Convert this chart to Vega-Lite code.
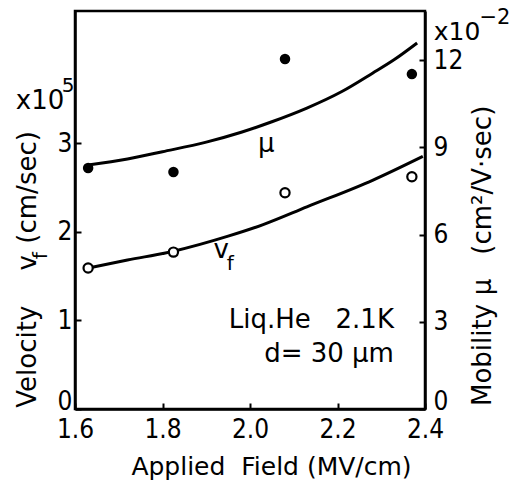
{
  "$schema": "https://vega.github.io/schema/vega-lite/v6.json",
  "width": 350,
  "height": 398,
  "autosize": {"type": "none"},
  "padding": {"left": 75, "top": 11, "right": 88, "bottom": 79},
  "background": "white",
  "config": {
    "view": {"stroke": "black", "strokeWidth": 2.5},
    "axis": {
      "grid": false,
      "domainColor": "black",
      "domainWidth": 2.5,
      "tickColor": "black",
      "tickWidth": 2,
      "tickSize": -6,
      "labelColor": "black",
      "labelFont": "Liberation Sans Narrow, DejaVu Sans Condensed, Liberation Sans",
      "labelFontSize": 26,
      "labelFlush": false,
      "labelOverlap": false,
      "titleColor": "black",
      "titleFont": "DejaVu Sans",
      "titleFontWeight": "normal"
    },
    "text": {"font": "DejaVu Sans", "color": "black"}
  },
  "encoding": {
    "x": {
      "field": "field",
      "type": "quantitative",
      "scale": {"domain": [1.6, 2.4], "nice": false, "zero": false},
      "axis": {
        "values": [1.6, 1.8, 2.0, 2.2, 2.4],
        "format": ".1f",
        "labelPadding": 13,
        "title": "Applied\u00a0\u00a0Field (MV/cm)",
        "titleFontSize": 25,
        "titleX": 196,
        "titleY": 65,
        "titleAlign": "center",
        "titleBaseline": "alphabetic"
      }
    }
  },
  "layer": [
    {
      "encoding": {
        "y": {
          "field": "v",
          "type": "quantitative",
          "scale": {"domain": [0, 4.49], "nice": false},
          "axis": {
            "orient": "left",
            "values": [0, 1, 2, 3],
            "labelPadding": 9,
            "labelBaseline": {"condition": {"test": "datum.value === 0", "value": "alphabetic"}, "value": "middle"},
            "title": null
          }
        }
      },
      "layer": [
        {
          "data": {"values": [
            {"field": 1.63, "v": 1.59},
            {"field": 1.72, "v": 1.68},
            {"field": 1.825, "v": 1.78},
            {"field": 1.95, "v": 1.95},
            {"field": 2.03, "v": 2.08},
            {"field": 2.13, "v": 2.28},
            {"field": 2.28, "v": 2.58},
            {"field": 2.395, "v": 2.85}
          ]},
          "mark": {"type": "line", "color": "black", "strokeWidth": 3, "interpolate": "monotone"}
        },
        {
          "data": {"values": [
            {"field": 1.63, "v": 1.59},
            {"field": 1.825, "v": 1.77},
            {"field": 2.08, "v": 2.44},
            {"field": 2.37, "v": 2.62}
          ]},
          "mark": {"type": "point", "shape": "circle", "filled": false, "fill": "white", "stroke": "black", "strokeWidth": 2.2, "size": 85, "opacity": 1, "fillOpacity": 1}
        },
        {
          "data": {"values": [{"field": 1.934, "v": 1.79, "label": "v"}]},
          "mark": {"type": "text", "fontSize": 26, "align": "center", "baseline": "middle"},
          "encoding": {"text": {"field": "label"}}
        },
        {
          "data": {"values": [{"field": 1.955, "v": 1.64, "label": "f"}]},
          "mark": {"type": "text", "fontSize": 20, "align": "center", "baseline": "middle"},
          "encoding": {"text": {"field": "label"}}
        },
        {
          "data": {"values": [
            {"field": 2.329, "v": 0.91, "label": "Liq.He\u00a0\u00a0\u00a02.1K"},
            {"field": 2.329, "v": 0.53, "label": "d=\u00a030\u00a0μm"}
          ]},
          "mark": {"type": "text", "fontSize": 26, "align": "right", "baseline": "alphabetic"},
          "encoding": {"text": {"field": "label"}}
        },
        {
          "data": {"values": [
            {"field": 1.6, "v": 0.59, "label": "Velocity"},
            {"field": 1.6, "v": 1.65, "label": "v"},
            {"field": 1.6, "v": 2.5, "label": "(cm/sec)"}
          ]},
          "mark": {"type": "text", "fontSize": 26, "angle": 270, "align": "center", "baseline": "middle", "dy": -47},
          "encoding": {"text": {"field": "label"}}
        },
        {
          "data": {"values": [{"field": 1.6, "v": 1.73, "label": "f"}]},
          "mark": {"type": "text", "fontSize": 20, "angle": 270, "align": "center", "baseline": "middle", "dy": -34},
          "encoding": {"text": {"field": "label"}}
        },
        {
          "data": {"values": [{"field": 1.6, "v": 3.47, "label": "x10"}]},
          "mark": {"type": "text", "fontSize": 26, "align": "center", "baseline": "middle", "dx": -35},
          "encoding": {"text": {"field": "label"}}
        },
        {
          "data": {"values": [{"field": 1.6, "v": 3.64, "label": "5"}]},
          "mark": {"type": "text", "fontSize": 20, "align": "center", "baseline": "middle", "dx": -7},
          "encoding": {"text": {"field": "label"}}
        }
      ]
    },
    {
      "encoding": {
        "y": {
          "field": "mu",
          "type": "quantitative",
          "scale": {"domain": [0, 13.69], "nice": false},
          "axis": {
            "orient": "right",
            "values": [0, 3, 6, 9, 12],
            "labelPadding": 14,
            "labelBaseline": {"condition": {"test": "datum.value === 0", "value": "alphabetic"}, "value": "middle"},
            "title": null
          }
        }
      },
      "layer": [
        {
          "data": {"values": [
            {"field": 1.63, "mu": 8.39},
            {"field": 1.72, "mu": 8.6},
            {"field": 1.8, "mu": 8.85},
            {"field": 1.9, "mu": 9.18},
            {"field": 1.98, "mu": 9.52},
            {"field": 2.05, "mu": 9.88},
            {"field": 2.13, "mu": 10.35},
            {"field": 2.21, "mu": 10.92},
            {"field": 2.28, "mu": 11.55},
            {"field": 2.33, "mu": 12.02},
            {"field": 2.382, "mu": 12.59}
          ]},
          "mark": {"type": "line", "color": "black", "strokeWidth": 3, "interpolate": "monotone"}
        },
        {
          "data": {"values": [
            {"field": 1.63, "mu": 8.29},
            {"field": 1.825, "mu": 8.15},
            {"field": 2.08, "mu": 12.04},
            {"field": 2.37, "mu": 11.52}
          ]},
          "mark": {"type": "point", "shape": "circle", "filled": true, "color": "black", "size": 110, "opacity": 1}
        },
        {
          "data": {"values": [{"field": 2.037, "mu": 9.1, "label": "μ"}]},
          "mark": {"type": "text", "fontSize": 26, "align": "center", "baseline": "middle"},
          "encoding": {"text": {"field": "label"}}
        },
        {
          "data": {"values": [
            {"field": 2.4, "mu": 1.86, "label": "Mobility"},
            {"field": 2.4, "mu": 4.2, "label": "μ"},
            {"field": 2.4, "mu": 7.87, "label": "(cm²/V·sec)"}
          ]},
          "mark": {"type": "text", "fontSize": 26, "angle": 270, "align": "center", "baseline": "middle", "dy": 58},
          "encoding": {"text": {"field": "label"}}
        },
        {
          "data": {"values": [{"field": 2.4, "mu": 12.97, "label": "x10"}]},
          "mark": {"type": "text", "fontSize": 25, "align": "center", "baseline": "middle", "dx": 32},
          "encoding": {"text": {"field": "label"}}
        },
        {
          "data": {"values": [{"field": 2.4, "mu": 13.45, "label": "−2"}]},
          "mark": {"type": "text", "fontSize": 21, "align": "center", "baseline": "middle", "dx": 70},
          "encoding": {"text": {"field": "label"}}
        }
      ]
    }
  ],
  "resolve": {"scale": {"y": "independent"}}
}
